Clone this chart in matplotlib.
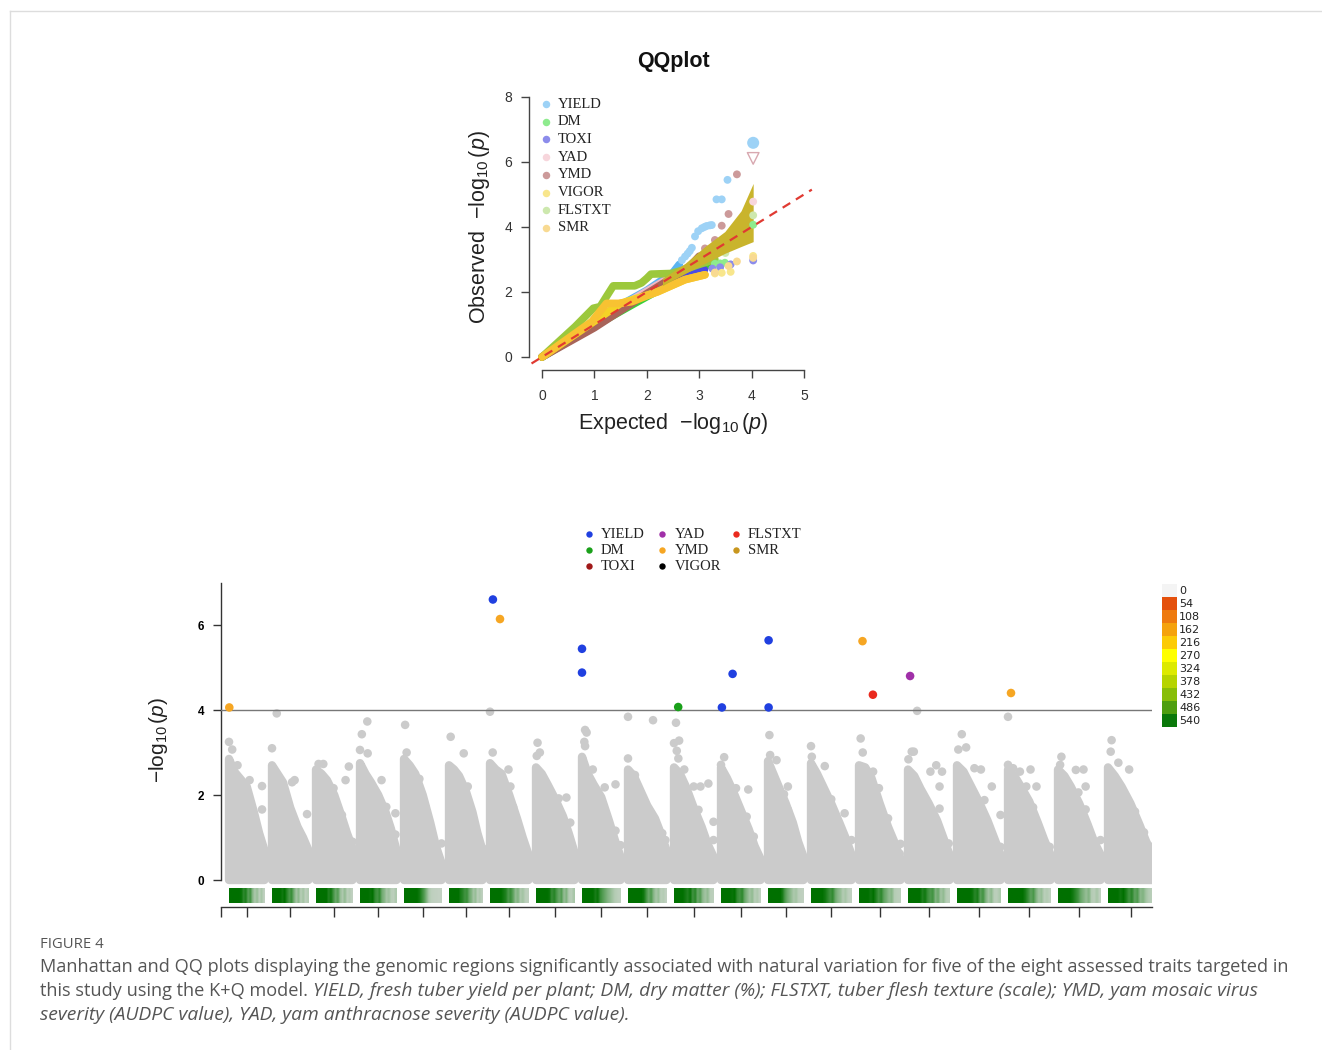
import numpy as np
import matplotlib
matplotlib.use('Agg')
import matplotlib.pyplot as plt
from matplotlib.patches import Polygon
from matplotlib.colors import LinearSegmentedColormap, ListedColormap

W, H, DPI = 1322, 1050, 100
plt.rcParams['font.family'] = ['Liberation Sans', 'DejaVu Sans']
plt.rcParams['mathtext.fontset'] = 'custom'
plt.rcParams['mathtext.rm'] = 'Liberation Sans'
plt.rcParams['mathtext.it'] = 'Liberation Sans:italic'
plt.rcParams['mathtext.bf'] = 'Liberation Sans:bold'

# ---------------- data ----------------
traits = ['YIELD', 'DM', 'TOXI', 'YAD', 'YMD', 'VIGOR', 'FLSTXT', 'SMR']

# QQ plot: (expected, observed) along each trait's dense band, and its sparse tail points
qq_yield_band = [(0, 0), (0.6, 0.62), (1.3, 1.42), (2.0, 2.05), (2.5, 2.6), (2.62, 2.85)]
qq_yield_tail = [(2.67, 2.98), (2.73, 3.09), (2.78, 3.18), (2.82, 3.26), (2.86, 3.36), (2.92, 3.71),
                 (2.98, 3.87), (3.05, 3.96), (3.10, 4.00), (3.14, 4.03), (3.20, 4.05), (3.24, 4.06),
                 (3.33, 4.85), (3.43, 4.85), (3.54, 5.45)]
qq_dm_band = [(0, 0), (1.0, 0.95), (1.77, 1.65), (2.5, 2.3), (3.0, 2.7), (3.2, 2.85)]
qq_dm_tail = [(3.3, 2.87), (3.4, 2.88), (3.49, 2.9)]
qq_toxi_band = [(0, 0), (1.5, 1.5), (2.5, 2.4), (3.1, 2.68)]
qq_toxi_tail = [(3.25, 2.72), (3.4, 2.76), (3.6, 2.85)]
qq_yad_band = [(0, 0), (1.5, 1.55), (2.5, 2.5), (3.0, 2.95)]
qq_yad_tail = [(3.2, 3.1), (3.4, 3.3), (3.6, 3.5)]
qq_ymd_band = [(0, 0), (1.0, 0.9), (2.0, 1.95), (2.8, 2.75), (3.0, 3.1)]
qq_ymd_tail = [(3.11, 3.34), (3.3, 3.6), (3.43, 4.04), (3.56, 4.40), (3.72, 5.62)]
qq_vigor_band = [(0, 0), (1.0, 1.1), (1.5, 1.65), (2.2, 2.0), (2.73, 2.38), (3.11, 2.53)]
qq_vigor_tail = [(3.3, 2.57), (3.43, 2.59), (3.6, 2.62)]
qq_flstxt_band = [(0, 0), (0.63, 0.93), (0.98, 1.5), (1.11, 1.55), (1.23, 1.86), (1.36, 2.19),
                  (1.77, 2.19), (1.9, 2.28), (2.0, 2.42), (2.08, 2.55), (2.47, 2.57), (2.66, 2.66),
                  (3.0, 2.85), (3.3, 3.0)]
qq_flstxt_tail = [(3.5, 3.2), (3.7, 3.5)]
qq_smr_band = [(0, 0), (0.95, 1.09), (1.23, 1.65), (1.46, 1.65), (1.71, 1.7), (2.22, 2.02),
               (2.73, 2.38), (3.11, 2.53)]
qq_smr_tail = [(3.3, 2.6), (3.56, 2.8), (3.72, 2.94)]
qq_top_expected = 4.03
qq_top_observed = [6.59, 4.07, 2.97, 4.78, 6.11, 3.11, 4.36, 3.05]

# confidence band of the QQ plot
ci_expected = [2.3, 2.73, 3.11, 3.49, 3.8, 4.03]
ci_upper = [2.42, 2.88, 3.4, 3.86, 4.5, 5.34]
ci_lower = [2.2, 2.57, 2.88, 3.19, 3.4, 3.55]

# Manhattan plot: chromosome lengths (Mb), gap between chromosomes
chr_len = [35.5, 36.5, 36.5, 36.5, 37.5, 33.5, 38.5, 38.5, 38.5, 38.5,
           39.5, 39.5, 35.5, 40.5, 41.5, 41.5, 43.5, 42.5, 42.5, 45.0]
chr_gap = 7.5
chr_offset = 8.0

# upper envelope of the dense cloud of non-significant SNPs, at 0..100 % of each chromosome
env_frac = [0, 0.15, 0.3, 0.5, 0.7, 0.85, 1.0]
chr_env = [
    [2.85, 2.55, 2.4, 2.2, 1.6, 1.1, 0.7], [2.7, 2.5, 2.3, 1.7, 1.25, 1.0, 0.7],
    [2.6, 2.5, 2.35, 2.0, 1.5, 1.1, 0.75], [2.75, 2.5, 2.3, 2.0, 1.6, 1.2, 0.7],
    [2.85, 2.7, 2.5, 2.0, 1.35, 0.8, 0.4], [2.7, 2.6, 2.45, 2.1, 1.6, 1.1, 0.7],
    [2.75, 2.6, 2.5, 2.0, 1.45, 1.0, 0.6], [2.65, 2.5, 2.25, 1.9, 1.5, 1.1, 0.65],
    [2.9, 2.5, 2.25, 1.95, 1.4, 0.95, 0.55], [2.6, 2.45, 2.15, 1.75, 1.45, 1.1, 0.7],
    [2.65, 2.5, 2.2, 1.7, 1.25, 0.85, 0.55], [2.65, 2.4, 2.1, 1.65, 1.2, 0.8, 0.5],
    [2.8, 2.5, 2.2, 1.8, 1.35, 0.9, 0.55], [2.75, 2.5, 2.2, 1.8, 1.35, 1.0, 0.6],
    [2.7, 2.65, 2.4, 1.8, 1.25, 0.9, 0.5], [2.6, 2.45, 2.15, 1.8, 1.4, 1.0, 0.6],
    [2.7, 2.55, 2.25, 1.85, 1.4, 1.0, 0.6], [2.6, 2.45, 2.2, 1.85, 1.35, 0.95, 0.6],
    [2.6, 2.45, 2.2, 1.8, 1.3, 0.9, 0.6], [2.65, 2.45, 2.2, 1.8, 1.3, 0.9, 0.6],
]

# sparse non-significant SNPs: (relative position in chromosome, -log10 p)
chr_sparse = [
    [(0, 3.25), (0.09, 3.07), (0.24, 2.7), (0.58, 2.35), (0.93, 2.21), (0.93, 1.66), (0.75, 1.26), (0.95, 0.75)],
    [(0.13, 3.92), (0, 3.1), (0.62, 2.35), (0.55, 2.3), (0.96, 1.55), (0.85, 0.86)],
    [(0.07, 2.73), (0.2, 2.73), (0.9, 2.67), (0.81, 2.35), (0.48, 2.16), (0.71, 1.53), (1.0, 0.9), (0.94, 0.47)],
    [(0.2, 3.73), (0.05, 3.43), (0, 3.06), (0.21, 2.98), (0.59, 2.35), (0.72, 1.72), (0.97, 1.57), (0.97, 1.07)],
    [(0.03, 3.65), (0.07, 3.0), (0.41, 2.38), (0.57, 1.72), (0.66, 1.14), (1.0, 0.86), (1.0, 0.4), (1.0, 0.12)],
    [(0.05, 3.37), (0.44, 2.98), (0.56, 2.2), (0.69, 1.53), (1.0, 0.75)],
    [(0, 3.96), (0.07, 3.0), (0.48, 2.6), (0.53, 2.2), (0.6, 1.72), (0.76, 1.14), (0.88, 0.65), (1.0, 0.42)],
    [(0.04, 3.23), (0.1, 3.0), (0.02, 2.92), (0.59, 1.92), (0.79, 1.94), (0.65, 1.55), (0.89, 1.35), (0.94, 0.71)],
    [(0.08, 3.53), (0.12, 3.47), (0.06, 3.25), (0.08, 3.15), (0.28, 2.6), (0.87, 2.25), (0.59, 2.18), (0.87, 1.16), (1.0, 0.82)],
    [(0, 3.84), (0.65, 3.76), (0, 2.86), (0.18, 2.47), (0.36, 1.88), (0.58, 1.53), (0.97, 0.94), (0.89, 1.1)],
    [(0.05, 3.70), (0.13, 3.28), (0, 3.22), (0.07, 3.04), (0.11, 2.86), (0.26, 2.6), (0.5, 2.2), (0.87, 2.27),
     (0.67, 2.2), (0.39, 1.73), (0.62, 1.65), (1.0, 1.37), (1.0, 0.94)],
    [(0.08, 2.89), (0, 2.71), (0.69, 2.13), (0.38, 2.16), (0.65, 1.49), (0.83, 1.02), (0.98, 0.32)],
    [(0.04, 3.41), (0.06, 2.94), (0.24, 2.82), (0.56, 2.2), (0.45, 2.02), (0.56, 1.65), (0.8, 0.98), (1.0, 0.47)],
    [(0, 3.15), (0.02, 2.9), (0.34, 2.68), (0.5, 1.9), (0.66, 1.1), (0.83, 1.57), (1.0, 0.94)],
    [(0.04, 3.33), (0.09, 3.0), (0.34, 2.55), (0.48, 2.16), (0.7, 1.45), (1.0, 0.85), (0.98, 0.62)],
    [(0.22, 3.98), (0.09, 3.02), (0.14, 3.02), (0.01, 2.84), (0.68, 2.7), (0.82, 2.55), (0.54, 2.55),
     (0.76, 2.2), (0.76, 1.68), (0.98, 0.86), (1.0, 0.59)],
    [(0.11, 3.43), (0.03, 3.07), (0.21, 3.12), (0.4, 2.63), (0.55, 2.6), (0.8, 2.2), (0.63, 1.88), (1.0, 1.53), (1.0, 0.78)],
    [(0, 3.84), (0, 2.71), (0.12, 2.63), (0.28, 2.55), (0.53, 2.6), (0.43, 2.2), (0.67, 2.2), (0.59, 1.71),
     (0.78, 0.86), (0.98, 0.78), (0.98, 0.55)],
    [(0.08, 2.9), (0.05, 2.71), (0.42, 2.59), (0.6, 2.6), (0.65, 2.2), (0.48, 2.06), (0.65, 1.66), (0.8, 0.78), (1.0, 0.94)],
    [(0.08, 3.29), (0.06, 3.02), (0.23, 2.76), (0.47, 2.6), (0.6, 1.61), (0.8, 1.12), (0.97, 0.78), (0.97, 0.51)],
]

# significant SNPs
sig_trait = ['YMD', 'YIELD', 'YMD', 'YIELD', 'YIELD', 'DM', 'YIELD', 'YIELD', 'YIELD', 'YIELD',
             'YMD', 'FLSTXT', 'YAD', 'YMD']
sig_chr = [1, 7, 7, 9, 9, 11, 12, 12, 13, 13, 15, 15, 16, 18]
sig_pos = [0.3, 2.9, 10.0, 0.0, 0.0, 4.2, 0.9, 11.6, 0.6, 0.6, 3.5, 13.9, 2.1, 3.0]
sig_val = [4.06, 6.60, 6.14, 5.44, 4.88, 4.07, 4.06, 4.85, 5.64, 4.06, 5.62, 4.36, 4.80, 4.40]
threshold = 4.0

# SNP density per chromosome (16 equal bins, SNPs per bin)
chr_density = [
    [540, 540, 540, 540, 540, 520, 430, 470, 330, 380, 250, 180, 220, 140, 190, 120],
    [540, 540, 540, 540, 500, 540, 440, 360, 400, 280, 200, 240, 160, 200, 130, 170],
    [540, 540, 540, 540, 540, 460, 500, 380, 300, 340, 220, 180, 230, 150, 170, 120],
    [540, 540, 540, 540, 520, 540, 420, 380, 430, 290, 250, 190, 210, 160, 140, 180],
    [540, 540, 540, 540, 540, 540, 500, 420, 340, 260, 180, 140, 120, 110, 100, 100],
    [540, 540, 540, 540, 540, 480, 440, 380, 400, 300, 260, 200, 220, 150, 180, 130],
    [540, 540, 540, 540, 540, 500, 460, 360, 400, 320, 230, 260, 180, 200, 150, 130],
    [540, 540, 540, 540, 540, 520, 400, 450, 360, 300, 340, 220, 260, 170, 150, 190],
    [540, 540, 540, 540, 540, 480, 520, 400, 340, 300, 260, 230, 200, 170, 150, 130],
    [540, 540, 540, 540, 540, 540, 500, 380, 300, 350, 250, 190, 220, 150, 170, 120],
    [540, 540, 540, 540, 500, 460, 520, 380, 440, 300, 340, 240, 200, 230, 160, 140],
    [540, 540, 540, 540, 520, 540, 420, 380, 430, 300, 250, 200, 230, 160, 180, 120],
    [540, 540, 540, 540, 540, 540, 480, 360, 300, 260, 220, 180, 200, 150, 130, 120],
    [540, 540, 540, 540, 540, 500, 440, 380, 420, 300, 250, 220, 170, 190, 140, 120],
    [540, 540, 540, 540, 500, 540, 460, 380, 430, 320, 280, 230, 250, 170, 150, 140],
    [540, 540, 540, 540, 540, 460, 500, 400, 350, 380, 260, 300, 200, 230, 170, 150],
    [540, 540, 540, 540, 540, 520, 440, 480, 330, 380, 260, 200, 240, 160, 140, 180],
    [540, 540, 540, 540, 540, 540, 480, 400, 320, 360, 260, 200, 220, 150, 170, 130],
    [540, 540, 540, 540, 540, 500, 440, 380, 300, 260, 220, 260, 170, 150, 190, 120],
    [540, 540, 540, 540, 500, 540, 470, 380, 440, 320, 350, 240, 260, 200, 170, 150],
]
density_breaks = [0, 54, 108, 162, 216, 270, 324, 378, 432, 486, 540]

# ---------------- styles ----------------
qq_band_col = {'YIELD': '#5AB4F0', 'DM': '#38D038', 'TOXI': '#4A4AE6', 'YAD': '#F2B8C4',
               'YMD': '#A8645A', 'VIGOR': '#F5D226', 'FLSTXT': '#9CC83C', 'SMR': '#F8C232'}
qq_pt_col = {'YIELD': '#9DD2F6', 'DM': '#8EEB8E', 'TOXI': '#8C8CEB', 'YAD': '#F7D6DC',
             'YMD': '#CC9A9A', 'VIGOR': '#F8E68C', 'FLSTXT': '#CDE8AE', 'SMR': '#F8DA92'}
man_col = {'YIELD': '#2040E0', 'DM': '#1AA01A', 'TOXI': '#A01818', 'YAD': '#A030A8',
           'YMD': '#F6A623', 'VIGOR': '#000000', 'FLSTXT': '#EA2A1E', 'SMR': '#C8961E'}
legend_cols = ['#F4F4F4', '#E4500C', '#EE7A0E', '#F5A20C', '#FCCB06', '#FFFF00',
               '#DDEA00', '#B6D400', '#88BE08', '#4E9E10', '#0A780A']
gray = '#CBCBCB'

qq_band = dict(zip(traits, [qq_yield_band, qq_dm_band, qq_toxi_band, qq_yad_band,
                            qq_ymd_band, qq_vigor_band, qq_flstxt_band, qq_smr_band]))
qq_tail = dict(zip(traits, [qq_yield_tail, qq_dm_tail, qq_toxi_tail, qq_yad_tail,
                            qq_ymd_tail, qq_vigor_tail, qq_flstxt_tail, qq_smr_tail]))

fig = plt.figure(figsize=(W / DPI, H / DPI), dpi=DPI)
fig.patch.set_facecolor('white')

def fx(x):
    return x / W

def fy(y):
    return 1 - y / H

# ---------------- QQ plot ----------------
axq = fig.add_axes([fx(529), fy(370), 286 / W, 284 / H])
axq.set_xlim(-0.248, 5.21)
axq.set_ylim(-0.4, 8.338)
for s in ['top', 'right']:
    axq.spines[s].set_visible(False)
axq.spines['left'].set_bounds(0, 8)
axq.spines['bottom'].set_bounds(0, 5)
for s in ['left', 'bottom']:
    axq.spines[s].set_color('#444444')
    axq.spines[s].set_linewidth(1.0)
axq.set_xticks(range(0, 6))
axq.set_yticks(range(0, 9, 2))
axq.tick_params(length=6, width=1.0, color='#444444', labelsize=10, labelcolor='#333333')
axq.tick_params(axis='x', pad=8)
axq.tick_params(axis='y', pad=6)

for t in traits:
    b = np.array(qq_band[t])
    axq.plot(b[:, 0], b[:, 1], color=qq_band_col[t], lw=5.5, solid_capstyle='round',
             solid_joinstyle='round', zorder=2)
for t in traits:
    p = np.array(qq_tail[t])
    axq.scatter(p[:, 0], p[:, 1], s=32, color=qq_pt_col[t], edgecolors='none', zorder=3)

axq.fill_between(ci_expected, ci_lower, ci_upper, color='#C9B42C', lw=0, zorder=4)

for t, v in zip(traits, qq_top_observed):
    if t == 'YIELD':
        axq.scatter([qq_top_expected], [v], s=75, color=qq_pt_col[t], edgecolors='none', zorder=5)
    elif t == 'YMD':
        axq.scatter([qq_top_expected], [v], s=70, marker='v', facecolors='none',
                    edgecolors='#D8A8B0', linewidths=1.0, zorder=5)
    else:
        axq.scatter([qq_top_expected], [v], s=32, color=qq_pt_col[t], edgecolors='none', zorder=5)

lim = np.array([-0.2, 5.15])
axq.plot(lim, lim, color='#E03A32', lw=1.6, ls=(0, (4, 3)), zorder=6)

axq.set_xlabel(r'Expected  $-\log_{10}(p)$', fontsize=15.5, color='#222222')
axq.set_ylabel(r'Observed  $-\log_{10}(p)$', fontsize=15.5, color='#222222')
axq.xaxis.set_label_coords((673 - 529) / 286, (370 - 423) / 284)
axq.yaxis.set_label_coords((480 - 529) / 286, (370 - 227) / 284)
axq.xaxis.label.set_va('center')
axq.yaxis.label.set_va('center')
fig.text(fx(673), fy(61), 'QQplot', fontsize=15.5, fontweight='bold', ha='center', va='center',
         color='#111111')

# QQ legend
for i, t in enumerate(traits):
    yy = 104 + i * 17.7
    fig.lines.append(plt.Line2D([fx(546)], [fy(yy)], marker='o', ms=5.4, color=qq_pt_col[t],
                                mec='none', transform=fig.transFigure))
    fig.text(fx(558), fy(yy), t, fontsize=10.5, family='Liberation Serif', va='center',
             ha='left', color='#222222')

# ---------------- Manhattan plot ----------------
axm = fig.add_axes([fx(221), fy(907), 931 / W, 324.5 / H])
starts = chr_offset + np.concatenate([[0], np.cumsum(np.array(chr_len[:-1]) + chr_gap)])
centers = starts + np.array(chr_len) / 2
axm.set_xlim(0, 931)
axm.set_ylim(-0.635, 7.0)

strip_cmap = LinearSegmentedColormap.from_list(
    'strip', [(0, '#D6D6D6'), (0.3, '#B8CEB8'), (0.65, '#4E9A4E'), (1, '#007000')])

for i in range(len(chr_len)):
    s0, L = starts[i], chr_len[i]
    xs = s0 + np.array(env_frac) * L
    verts = [(s0, 0)] + list(zip(xs, chr_env[i])) + [(s0 + L, 0)]
    axm.add_patch(Polygon(verts, closed=True, fc=gray, ec=gray, lw=6, joinstyle='round', zorder=2))
    sp = np.array(chr_sparse[i])
    axm.scatter(s0 + sp[:, 0] * L, sp[:, 1], s=38, color=gray, edgecolors='none', zorder=2)
    dens = np.array(chr_density[i], dtype=float)[None, :]
    axm.imshow(dens, cmap=strip_cmap, vmin=0, vmax=540, aspect='auto', interpolation='bilinear',
               extent=[s0, s0 + L, -0.53, -0.18], zorder=2)

axm.axhline(threshold, color='#777777', lw=1.0, zorder=3)

for t, c, p, v in zip(sig_trait, sig_chr, sig_pos, sig_val):
    axm.scatter([starts[c - 1] + p], [v], s=38, color=man_col[t], edgecolors='none', zorder=4)

for s in ['top', 'right']:
    axm.spines[s].set_visible(False)
axm.spines['left'].set_bounds(0, 7)
for s in ['left', 'bottom']:
    axm.spines[s].set_color('#333333')
    axm.spines[s].set_linewidth(1.0)
axm.set_yticks([0, 2, 4, 6])
axm.set_yticklabels(['0', '2', '4', '6'], fontweight='bold')
axm.set_xticks(np.concatenate([[0], centers]))
axm.set_xticklabels([])
axm.tick_params(axis='y', length=6, width=1.0, color='#333333', labelsize=8.5, pad=6)
axm.tick_params(axis='x', length=7, width=1.0, color='#333333')
axm.set_ylabel(r'$-\log_{10}(p)$', fontsize=15, color='#222222')
axm.yaxis.set_label_coords((158 - 221) / 931, (907 - 740) / 324.5)
axm.yaxis.label.set_va('center')

# Manhattan legend
leg_pos = [(589, 601, 534), (589, 601, 550), (589, 601, 566),
           (662, 675, 534), (662, 675, 550), (662, 675, 566),
           (736, 748, 534), (736, 748, 550)]
for t, (mx, tx, yy) in zip(traits, leg_pos):
    fig.lines.append(plt.Line2D([fx(mx)], [fy(yy)], marker='o', ms=4.6, color=man_col[t],
                                mec='none', transform=fig.transFigure))
    fig.text(fx(tx), fy(yy), t, fontsize=10.5, family='Liberation Serif', va='center',
             ha='left', color='#222222')

# density colour key
axc = fig.add_axes([fx(1162), fy(727), 15 / W, 143 / H])
axc.imshow(np.arange(len(density_breaks))[:, None], cmap=ListedColormap(legend_cols),
           aspect='auto', interpolation='nearest', extent=[0, 1, len(density_breaks), 0])
axc.set_axis_off()
for i, b in enumerate(density_breaks):
    fig.text(fx(1179), fy(591 + i * 13.0), str(b), fontsize=8, va='center', ha='left',
             color='#222222', family='DejaVu Sans')

# ---------------- caption & frame ----------------
fig.lines.append(plt.Line2D([fx(10), fx(1322)], [fy(11), fy(11)], color='#DDDDDD', lw=1,
                            transform=fig.transFigure))
fig.lines.append(plt.Line2D([fx(10), fx(10)], [fy(11), fy(1050)], color='#DDDDDD', lw=1,
                            transform=fig.transFigure))

cap_font = 'Open Sans'
cap_col = '#555555'
cap_size = 13.1
cap_it_size = 13.9
fig.text(fx(40), fy(944), 'FIGURE 4', fontsize=10.7, family=cap_font, color=cap_col, va='center')
fig.text(fx(40), fy(967), 'Manhattan and QQ plots displaying the genomic regions significantly '
         'associated with natural variation for five of the eight assessed traits targeted in',
         fontsize=cap_size, family=cap_font, color=cap_col, va='center')
t2 = fig.text(fx(40), fy(991), 'this study using the K+Q model.', fontsize=cap_size,
              family=cap_font, color=cap_col, va='center')
fig.canvas.draw()
bb = t2.get_window_extent(renderer=fig.canvas.get_renderer())
fig.text(bb.x1 / W, fy(991), ' YIELD, fresh tuber yield per plant; DM, dry matter (%); FLSTXT, '
         'tuber flesh texture (scale); YMD, yam mosaic virus', fontsize=cap_it_size, family=cap_font,
         style='italic', color=cap_col, va='center')
fig.text(fx(40), fy(1015), 'severity (AUDPC value), YAD, yam anthracnose severity (AUDPC value).',
         fontsize=cap_it_size, family=cap_font, style='italic', color=cap_col, va='center')

fig.savefig('out.png', dpi=DPI)
